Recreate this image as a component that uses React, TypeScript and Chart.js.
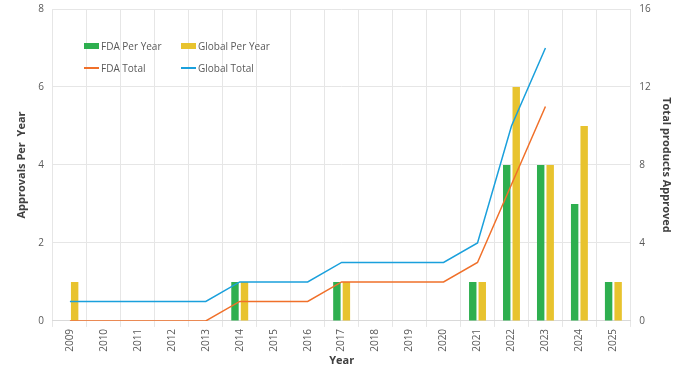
import React, { useEffect, useRef } from "react";
import { Chart, registerables } from "chart.js";

Chart.register(...registerables);

const years = ["2009","2010","2011","2012","2013","2014","2015","2016","2017","2018","2019","2020","2021","2022","2023","2024","2025"];
const fdaPerYear = [0,0,0,0,0,1,0,0,1,0,0,0,1,4,4,3,1];
const globalPerYear = [1,0,0,0,0,1,0,0,1,0,0,0,1,6,4,5,1];
const fdaTotal = [0,0,0,0,0,1,1,1,2,2,2,2,3,7,11,null,null];
const globalTotal = [1,1,1,1,1,2,2,2,3,3,3,3,4,10,14,null,null];
const leftTicks = [0,2,4,6,8];
const rightTicks = [0,4,8,12,16];

const GREEN = "#2EAF4F";
const YELLOW = "#E8C32E";
const ORANGE = "#F0702A";
const BLUE = "#1AA0DC";
const FONT = "'Open Sans', 'Noto Sans', sans-serif";
const TICK = "#595959";
const GRID = "#e6e6e6";

export default function App() {
  const ref = useRef<HTMLCanvasElement>(null);
  useEffect(() => {
    document.body.style.margin = "0";
    const chart = new Chart(ref.current!, {
      type: "bar",
      data: {
        labels: years,
        datasets: [
          { type: "line", label: "FDA Total", data: fdaTotal, yAxisID: "y1", borderColor: ORANGE, backgroundColor: ORANGE, borderWidth: 1.5, pointRadius: 0, tension: 0, order: 0 },
          { type: "line", label: "Global Total", data: globalTotal, yAxisID: "y1", borderColor: BLUE, backgroundColor: BLUE, borderWidth: 1.5, pointRadius: 0, tension: 0, order: 0 },
          { type: "bar", label: "FDA Per Year", data: fdaPerYear, yAxisID: "y", backgroundColor: GREEN, categoryPercentage: 0.56, barPercentage: 0.78, order: 1 },
          { type: "bar", label: "Global Per Year", data: globalPerYear, yAxisID: "y", backgroundColor: YELLOW, categoryPercentage: 0.56, barPercentage: 0.78, order: 1 },
        ],
      },
      options: {
        responsive: true,
        maintainAspectRatio: false,
        animation: false,
        layout: { padding: { left: 15, right: 23, top: 9, bottom: 6 } },
        plugins: { legend: { display: false }, tooltip: { enabled: false } },
        scales: {
          x: {
            grid: { color: GRID, offset: true, tickLength: 6 },
            border: { color: "#d9d9d9" },
            ticks: { color: TICK, font: { family: FONT, size: 10 }, minRotation: 90, maxRotation: 90, padding: 2 },
            title: { display: true, text: "Year", color: "#404040", font: { family: FONT, size: 11, weight: "bold" }, padding: { top: 0, bottom: 0 } },
          },
          y: {
            position: "left",
            min: 0, max: 8,
            afterBuildTicks: (s: any) => { s.ticks = leftTicks.map((v) => ({ value: v })); },
            grid: { color: GRID, drawTicks: true, tickLength: 8, tickColor: "rgba(0,0,0,0)" },
            border: { display: false },
            ticks: { color: TICK, font: { family: FONT, size: 10 }, padding: 1 },
            title: { display: true, text: "Approvals Per  Year", color: "#404040", font: { family: FONT, size: 11, weight: "bold" }, padding: { top: 0, bottom: 9 } },
          },
          y1: {
            position: "right",
            min: 0, max: 16,
            afterBuildTicks: (s: any) => { s.ticks = rightTicks.map((v) => ({ value: v })); },
            grid: { display: true, drawOnChartArea: false, drawTicks: true, tickLength: 8, tickColor: "rgba(0,0,0,0)" },
            border: { display: false },
            ticks: { color: TICK, font: { family: FONT, size: 10 }, padding: 1 },
            title: { display: true, text: "Total products Approved", color: "#404040", font: { family: FONT, size: 11, weight: "bold" }, padding: { top: 4, bottom: 8 } },
          },
        },
      },
    });
    return () => chart.destroy();
  }, []);

  const item = (left: number, top: number, color: string, text: string, isLine: boolean) => (
    <div style={{ position: "absolute", left, top, display: "flex", alignItems: "center", fontFamily: FONT, fontSize: 10, color: TICK, whiteSpace: "nowrap" }}>
      <span style={{ display: "inline-block", width: 15, height: isLine ? 1.5 : 6, background: color, marginRight: 2 }} />
      {text}
    </div>
  );

  return (
    <div style={{ position: "fixed", left: 0, top: 0, width: 700, height: 373 }}>
      <canvas ref={ref} />
      {item(84, 39, GREEN, "FDA Per Year", false)}
      {item(181, 39, YELLOW, "Global Per Year", false)}
      {item(84, 61, ORANGE, "FDA Total", true)}
      {item(181, 61, BLUE, "Global Total", true)}
    </div>
  );
}
